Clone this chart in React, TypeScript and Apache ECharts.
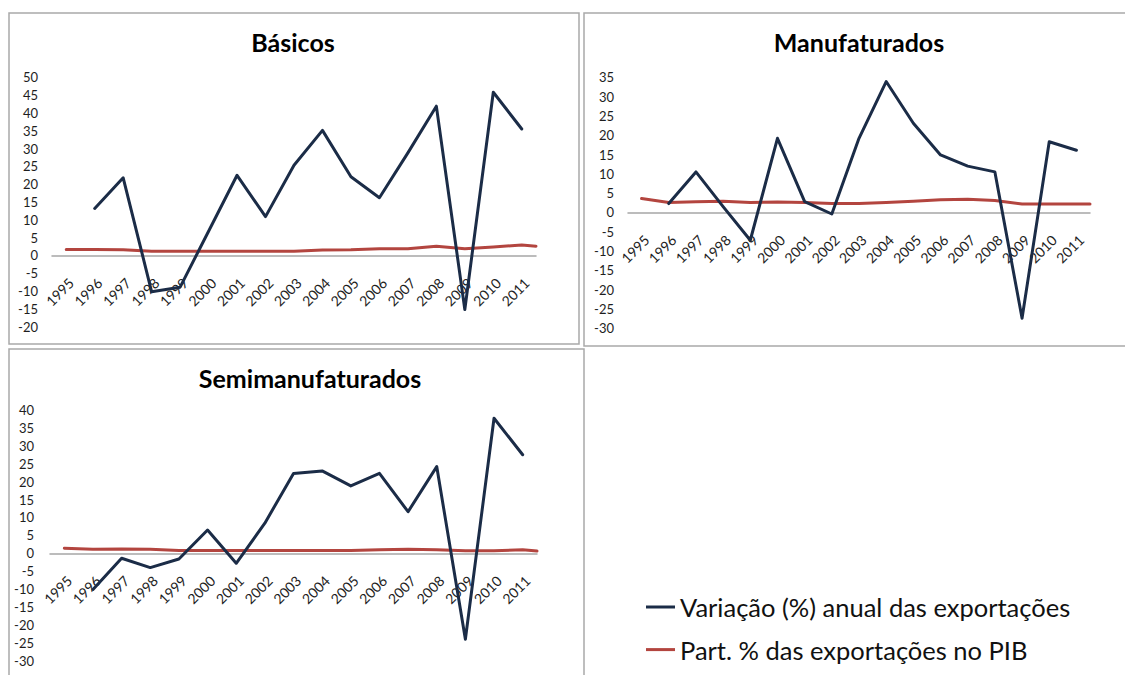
import React, { useEffect, useRef } from "react";
import * as echarts from "echarts";

// ---- Data ----
const years = ["1995","1996","1997","1998","1999","2000","2001","2002","2003","2004","2005","2006","2007","2008","2009","2010","2011"];
// the share line runs on to the right end of the axis
const partYears = [1995,1996,1997,1998,1999,2000,2001,2002,2003,2004,2005,2006,2007,2008,2009,2010,2011,2011.5];

const basicosVar = [null, 13.2, 21.8, -10.2, -8.9, 6.8, 22.5, 10.9, 25.3, 35.1, 22.1, 16.2, 28.8, 41.9, -15.2, 45.8, 35.5];
const basicosPart = [1.7, 1.7, 1.6, 1.2, 1.2, 1.2, 1.2, 1.2, 1.2, 1.5, 1.6, 1.9, 1.9, 2.6, 1.9, 2.4, 2.9, 2.6];

const manufVar = [null, 2.3, 10.5, 1.5, -7.2, 19.2, 2.8, -0.4, 19.2, 33.9, 23.1, 14.9, 12.0, 10.5, -27.4, 18.3, 16.1];
const manufPart = [3.6, 2.6, 2.8, 2.9, 2.6, 2.7, 2.6, 2.3, 2.3, 2.6, 2.9, 3.3, 3.4, 3.1, 2.2, 2.2, 2.2, 2.2];

const semiVar = [null, -10.1, -1.4, -4.0, -1.6, 6.5, -2.8, 8.4, 22.3, 23.0, 18.8, 22.3, 11.6, 24.2, -24.0, 37.7, 27.5];
const semiPart = [1.4, 1.1, 1.2, 1.1, 0.8, 0.8, 0.8, 0.8, 0.8, 0.8, 0.8, 1.0, 1.1, 1.0, 0.7, 0.7, 1.0, 0.6];

const VAR_NAME = "Variação (%) anual das exportações";
const PART_NAME = "Part. % das exportações no PIB";

// ---- Layout / style ----
const BLUE = "#1b2c47";
const RED = "#b3453f";
const FONT = "Lato";

const panels = [
  { title: "Básicos", varData: basicosVar, partData: basicosPart, min: -20, max: 50,
    grid: { left: 52, top: 77.3, width: 484, height: 249.4 }, tx: 293, ty: 42, ym: 14,
    box: { x: 9, y: 13, width: 570, height: 331 } },
  { title: "Manufaturados", varData: manufVar, partData: manufPart, min: -30, max: 35,
    grid: { left: 628, top: 77.3, width: 462, height: 251 }, tx: 859, ty: 42, ym: 14,
    box: { x: 584, y: 13, width: 560, height: 333 } },
  { title: "Semimanufaturados", varData: semiVar, partData: semiPart, min: -30, max: 40,
    grid: { left: 50, top: 410, width: 487, height: 250.7 }, tx: 310, ty: 378, ym: 16,
    box: { x: 9, y: 349, width: 575, height: 340 } },
];

export default function App() {
  const ref = useRef<HTMLDivElement>(null);
  useEffect(() => {
    if (!ref.current) return;
    const chart = echarts.init(ref.current, undefined, { renderer: "svg" });
    const grid: any[] = [];
    const xAxis: any[] = [];
    const yAxis: any[] = [];
    const series: any[] = [];
    const graphic: any[] = [];
    panels.forEach((p, i) => {
      grid.push({ ...p.grid, containLabel: false });
      // lift the category axis (line + labels) up to the zero level of the value axis
      const zeroOffset = -(p.grid.height * (0 - p.min)) / (p.max - p.min);
      xAxis.push({
        type: "category", gridIndex: i, data: years, boundaryGap: true,
        position: "bottom", offset: zeroOffset,
        axisLine: { onZero: false, lineStyle: { color: "#a6a6a6", width: 1.5 } },
        axisTick: { show: false },
        splitLine: { show: false },
        axisLabel: { rotate: 45, verticalAlign: "top", margin: 20, interval: 0,
          fontSize: 14, fontFamily: FONT, color: "#1e1e1e" },
      });
      xAxis.push({ type: "value", gridIndex: i, min: 1994.5, max: 2011.5, show: false });
      yAxis.push({
        type: "value", gridIndex: i, min: p.min, max: p.max, interval: 5,
        axisLine: { show: false }, axisTick: { show: false }, splitLine: { show: false },
        axisLabel: { margin: p.ym, fontSize: 13, fontFamily: FONT, color: "#1e1e1e" },
      });
      series.push({
        name: PART_NAME, type: "line", xAxisIndex: 2 * i + 1, yAxisIndex: i,
        data: partYears.map((y, k) => [y, p.partData[k]]),
        symbol: "none", z: 2,
        lineStyle: { color: RED, width: 3, cap: "round", join: "round" },
        itemStyle: { color: RED },
      });
      series.push({
        name: VAR_NAME, type: "line", xAxisIndex: 2 * i, yAxisIndex: i,
        data: p.varData, symbol: "none", z: 3,
        lineStyle: { color: BLUE, width: 3, cap: "round", join: "round" },
        itemStyle: { color: BLUE },
      });
      graphic.push({
        type: "rect", shape: p.box, z: -1,
        style: { fill: "none", stroke: "#a9a9a9", lineWidth: 1.5 },
      });
      graphic.push({
        type: "text", x: p.tx, y: p.ty,
        style: { text: p.title, textAlign: "center", textVerticalAlign: "middle",
          font: `bold 25px ${FONT}`, fill: "#000" },
      });
    });
    chart.setOption({
      animation: false,
      backgroundColor: "#fff",
      grid, xAxis, yAxis, series, graphic,
      legend: {
        data: [VAR_NAME, PART_NAME], orient: "vertical", left: 646, top: 593, padding: 0,
        itemGap: 14.6, itemWidth: 29, itemHeight: 3, icon: "rect", selectedMode: false,
        textStyle: { fontFamily: FONT, fontSize: 25.5, color: "#111", lineHeight: 28 },
      },
    });
    return () => chart.dispose();
  }, []);
  return (
    <div ref={ref} style={{ position: "fixed", left: 0, top: 0, width: 1125, height: 675 }} />
  );
}
